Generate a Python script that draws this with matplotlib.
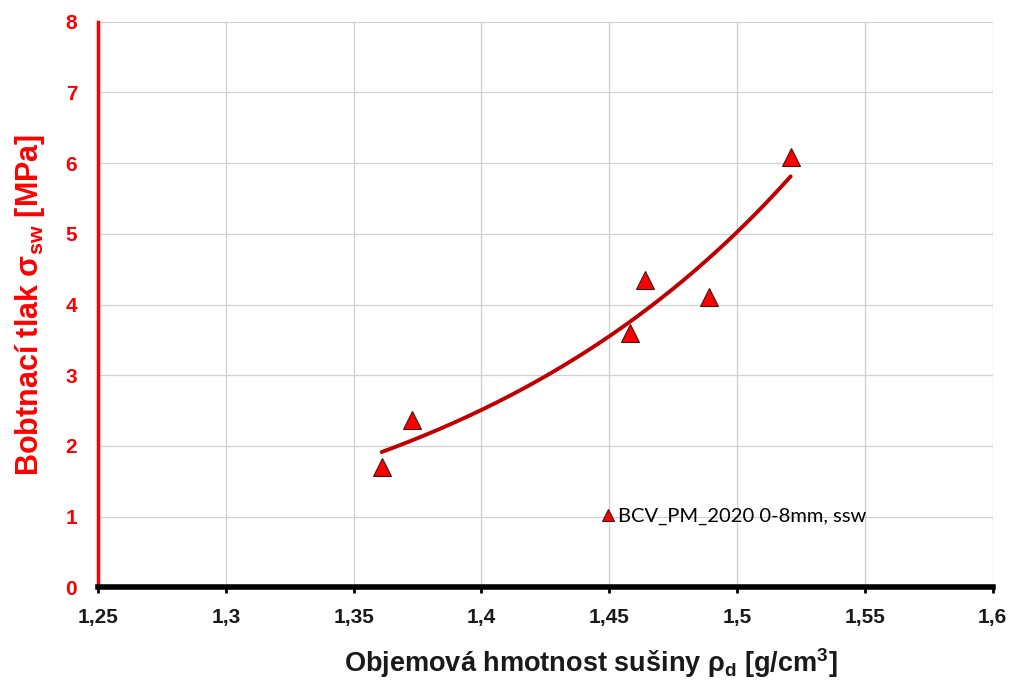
import numpy as np
import matplotlib
matplotlib.use("Agg")
import matplotlib.pyplot as plt

# Data
density = [1.361, 1.373, 1.458, 1.464, 1.489, 1.521]
pressure = [1.70, 2.37, 3.60, 4.35, 4.11, 6.09]
series_label = "BCV_PM_2020 0-8mm, ssw"
x_ticks = [1.25, 1.30, 1.35, 1.40, 1.45, 1.50, 1.55, 1.60]
x_tick_labels = ["1,25", "1,3", "1,35", "1,4", "1,45", "1,5", "1,55", "1,6"]
y_ticks = [0, 1, 2, 3, 4, 5, 6, 7, 8]

plt.rcParams['font.family'] = ['Liberation Sans', 'DejaVu Sans']
plt.rcParams['mathtext.fontset'] = 'custom'
plt.rcParams['mathtext.rm'] = 'Liberation Sans:bold'

fig = plt.figure(figsize=(10.12, 6.82), dpi=100)
ax = fig.add_axes([0.0968, 0.139, 0.884, 0.829])

# exponential trend line fitted to the data
b, ln_a = np.polyfit(density, np.log(pressure), 1)
xs = np.linspace(min(density), max(density), 200)
ax.plot(xs, np.exp(ln_a) * np.exp(b * xs), color='#C00000', lw=2.8,
        solid_capstyle='round', zorder=3)

ax.plot(density, pressure, linestyle='none', marker='^', markersize=13,
        markerfacecolor='#FF0000', markeredgecolor='#3a1a1a', markeredgewidth=0.8,
        label=series_label, zorder=4)

ax.set_xlim(1.25, 1.60)
ax.set_ylim(0, 8)
ax.set_xticks(x_ticks)
ax.set_xticklabels(x_tick_labels, fontsize=15, fontweight='bold', color='#1a1a1a')
ax.set_yticks(y_ticks)
ax.set_yticklabels([str(v) for v in y_ticks], fontsize=15, fontweight='bold', color='#FF0000')

ax.grid(True, color='#d0d0d0', lw=0.9)
ax.set_axisbelow(True)
for s in ['top', 'right']:
    ax.spines[s].set_visible(False)
ax.spines['left'].set_color('#FF0000')
ax.spines['left'].set_linewidth(2.5)
ax.spines['bottom'].set_color('black')
ax.spines['bottom'].set_linewidth(4)
ax.tick_params(axis='y', length=0, pad=15)
ax.tick_params(axis='x', length=4, width=2, color='black', pad=11, direction='out')

ax.set_xlabel('Objemová hmotnost sušiny ρ$_\\mathregular{d}$ [g/cm$^\\mathregular{3}$]',
              fontsize=19.5, fontweight='bold', color='#1a1a1a')
ax.xaxis.set_label_coords(0.551, -0.104)
ax.set_ylabel('Bobtnací tlak σ$_\\mathregular{sw}$ [MPa]', fontsize=22,
              fontweight='bold', color='#FF0000', labelpad=13)

leg = ax.legend(loc='center left', bbox_to_anchor=(0.55, 0.125), frameon=False,
                prop={'family': ['Lato', 'DejaVu Sans'], 'size': 14.5},
                handletextpad=0.0, handlelength=1.0, borderaxespad=0)
for h in leg.legend_handles:
    h.set_markersize(9)

fig.savefig('out.png', dpi=100)
